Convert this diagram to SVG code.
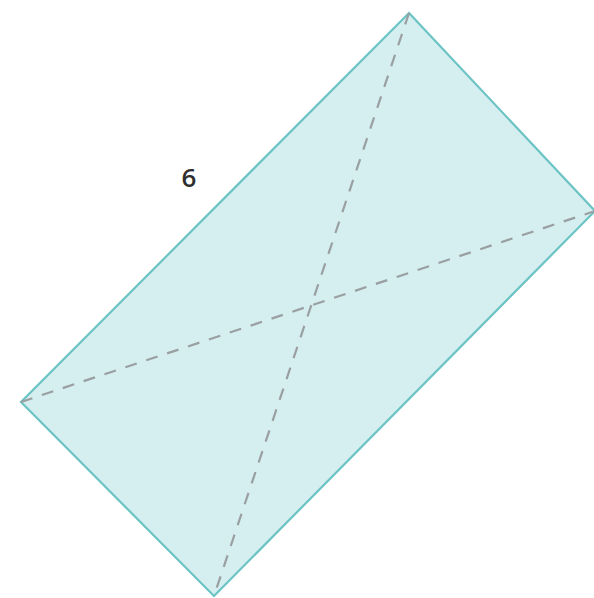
<svg xmlns="http://www.w3.org/2000/svg" width="594" height="598" viewBox="0 0 594 598">
<style>
.shape{fill:#d5eef0;stroke:#6cc3c4;stroke-width:2.2;stroke-linejoin:miter}
.diag{fill:none;stroke:#9a9fa1;stroke-width:2.2;stroke-dasharray:12 10}
.lbl{font-family:"Open Sans","Liberation Sans",sans-serif;font-size:26px;font-weight:600;fill:#2e2e2e}
</style>
<rect width="594" height="598" fill="#ffffff"/>
<g id="rectangle">
<polygon class="shape" points="409,13 595,211 214,596 21,402"/>
</g>
<g id="connectors">
<line class="diag" x1="409" y1="13" x2="214" y2="596"/>
<line class="diag" x1="21" y1="402" x2="595" y2="211"/>
</g>
<g id="label-6">
<text class="lbl" x="189" y="187" text-anchor="middle">6</text>
</g>
</svg>
